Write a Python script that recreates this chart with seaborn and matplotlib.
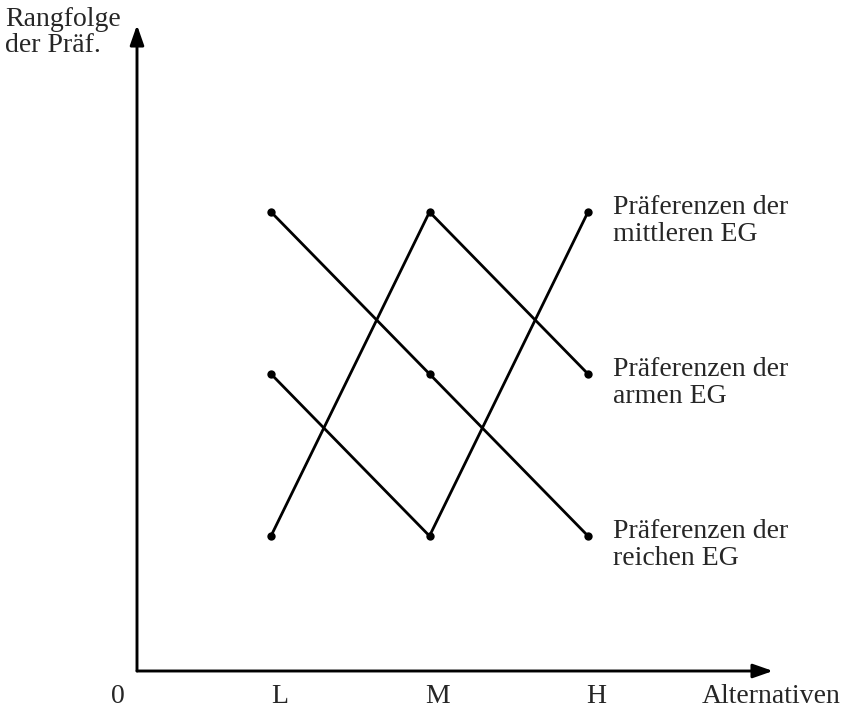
"""
Rangfolge der Präferenzen dreier Einkommensgruppen (EG)
über die Alternativen L, M, H
"""
import pandas as pd
import matplotlib
matplotlib.use("Agg")
import matplotlib.pyplot as plt
import seaborn as sns

sns.set_theme(style="white")
plt.rcParams['font.family'] = ['Liberation Serif', 'DejaVu Serif']

# --- data ---
alternatives = ["L", "M", "H"]
alt_pos = [1, 2, 3]
groups = ["mittleren", "armen", "reichen"]
rank_mittlere = [2, 1, 3]
rank_arme = [1, 3, 2]
rank_reiche = [3, 2, 1]
end_labels = ["Präferenzen der\nmittleren EG",
              "Präferenzen der\narmen EG",
              "Präferenzen der\nreichen EG"]
y_label = "Rangfolge\nder Präf."
x_label = "Alternativen"

FS = 20

rows = []
for g, ranks in zip(groups, [rank_mittlere, rank_arme, rank_reiche]):
    for a, p, r in zip(alternatives, alt_pos, ranks):
        rows.append({"Gruppe": g, "Alternative": a, "pos": p, "Rang": r})
df = pd.DataFrame(rows)

fig = plt.figure(figsize=(8.46, 7.09), dpi=100)
W, H = 846, 709
ax = fig.add_axes([137 / W, (H - 671) / H, (773 - 137) / W, (671 - 25) / H])

sns.lineplot(data=df, x="pos", y="Rang", hue="Gruppe", units="Gruppe",
             estimator=None, palette=["black"] * 3, marker="o",
             markersize=6, markeredgewidth=0, linewidth=2.0,
             legend=False, ax=ax)

# axis range: origin a bit left of L / below rank 1
ax.set_xlim(0.1546, 4.167)
ax.set_ylim(0.1667, 4.154)

for s in ax.spines.values():
    s.set_visible(False)
ax.set_xticks([])
ax.set_yticks([])
ax.set_xlabel("")
ax.set_ylabel("")

# axes with arrow heads
arrow = dict(arrowstyle="-|>,head_length=0.4,head_width=0.14",
             lw=2.1, color="black", mutation_scale=30, shrinkA=0, shrinkB=0)
ax.annotate("", xy=(1, 0), xytext=(0, 0), xycoords="axes fraction",
            arrowprops=arrow, annotation_clip=False)
ax.annotate("", xy=(0, 1), xytext=(0, 0), xycoords="axes fraction",
            arrowprops=arrow, annotation_clip=False)

# category labels under the x axis
y0 = ax.get_ylim()[0]
for a, p in zip(alternatives, alt_pos):
    ax.annotate(a, xy=(p, y0), xytext=(6, -23), textcoords="offset points",
                ha="center", va="baseline", fontsize=FS, annotation_clip=False)
ax.annotate("0", xy=(ax.get_xlim()[0], y0), xytext=(-14, -23),
            textcoords="offset points", ha="center", va="baseline",
            fontsize=FS, annotation_clip=False)
ax.annotate(x_label, xy=(1, 0), xycoords="axes fraction", xytext=(-1, -23),
            textcoords="offset points", ha="center", va="baseline",
            fontsize=FS, annotation_clip=False)

# y axis title (baseline of last line)
fig.text(5 / W, (H - 52) / H, y_label, ha="left", va="baseline",
         fontsize=FS, linespacing=1.05)

# group labels at the H end of each line
last = df[df["Alternative"] == "H"].set_index("Gruppe")
for g, lab in zip(groups, end_labels):
    ax.annotate(lab, xy=(3, last.loc[g, "Rang"]), xytext=(18, -21),
                textcoords="offset points", ha="left", va="baseline",
                fontsize=FS, linespacing=1.1, annotation_clip=False)

fig.savefig("out.png", dpi=100)
